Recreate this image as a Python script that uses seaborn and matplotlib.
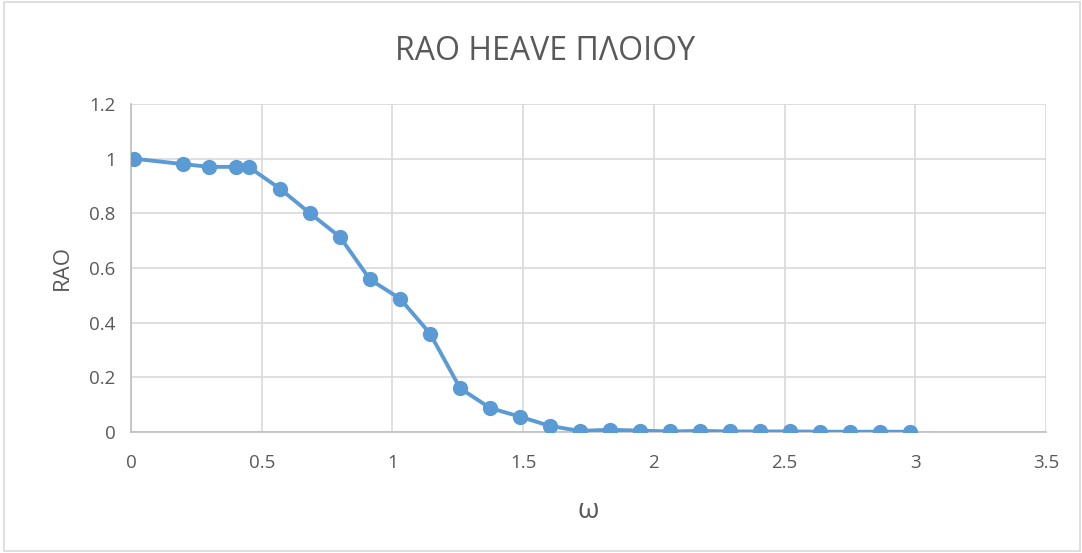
import matplotlib
matplotlib.use("Agg")
import matplotlib.pyplot as plt
import seaborn as sns
import pandas as pd
from matplotlib.patches import Rectangle

omega = [0.01, 0.20, 0.30, 0.40, 0.45, 0.57, 0.685, 0.80, 0.914, 1.029, 1.144,
         1.259, 1.373, 1.488, 1.603, 1.717, 1.832, 1.947, 2.062, 2.177, 2.291,
         2.406, 2.52, 2.635, 2.75, 2.865, 2.98]
rao = [1.0, 0.98, 0.97, 0.97, 0.97, 0.89, 0.80, 0.713, 0.558, 0.488, 0.36,
       0.16, 0.088, 0.056, 0.022, 0.004, 0.008, 0.005, 0.002, 0.004, 0.002,
       0.002, 0.002, 0.001, 0.001, 0.001, 0.001]
xticks = [0, 0.5, 1, 1.5, 2, 2.5, 3, 3.5]
yticks = [0, 0.2, 0.4, 0.6, 0.8, 1, 1.2]
xticklabels = ["0", "0.5", "1", "1.5", "2", "2.5", "3", "3.5"]
yticklabels = ["0", "0.2", "0.4", "0.6", "0.8", "1", "1.2"]

df = pd.DataFrame({"omega": omega, "rao": rao})

sns.set_theme(style="white")
plt.rcParams['font.family'] = ['Open Sans', 'DejaVu Sans']

fig = plt.figure(figsize=(10.82, 5.53), dpi=100)
ax = fig.add_axes([131/1082, 1-432/553, (1046-131)/1082, (432-104)/553])

color = "#5b9bd5"
sns.lineplot(data=df, x="omega", y="rao", ax=ax, color=color, linewidth=2.8,
             marker="o", markersize=11, markeredgewidth=0, zorder=3)

ax.set_xlim(0, 3.5)
ax.set_ylim(0, 1.2)
ax.set_xticks(xticks)
ax.set_xticklabels(xticklabels)
ax.set_yticks(yticks)
ax.set_yticklabels(yticklabels)
ax.grid(True, color="#d9d9d9", linewidth=1.2)
for s in ["top", "right"]:
    ax.spines[s].set_visible(False)
for s in ["left", "bottom"]:
    ax.spines[s].set_color("#bfbfbf")
    ax.spines[s].set_linewidth(1.2)
ax.tick_params(axis="both", colors="#595959", labelsize=13.5, length=0)
ax.tick_params(axis="x", pad=16)
ax.tick_params(axis="y", pad=11)
for lab in ax.get_xticklabels() + ax.get_yticklabels():
    lab.set_color("#595959")

ax.set_xlabel("ω", fontsize=20, color="#595959", labelpad=18)
ax.set_ylabel("RAO", fontsize=16, color="#595959", labelpad=12)
fig.text(545/1082, 1-51/553, "RAO HEAVE ΠΛΟΙΟΥ", ha="center", va="center",
         fontsize=23, color="#595959")

fig.patches.append(Rectangle((4/1082, 2/553), 1076/1082, 549/553, transform=fig.transFigure,
                             fill=False, edgecolor="#d9d9d9", linewidth=1.2))

fig.savefig("out.png", dpi=100)
